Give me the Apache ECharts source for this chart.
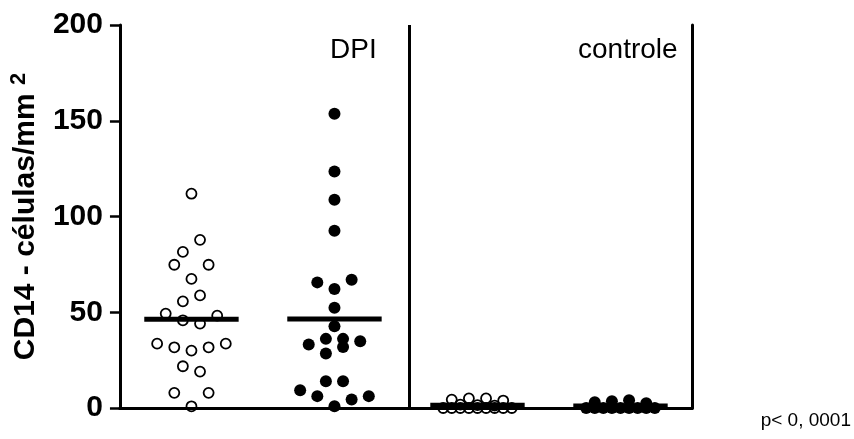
<!DOCTYPE html>
<html>
<head>
<meta charset="utf-8">
<script src="https://cdn.jsdelivr.net/npm/echarts@6/dist/echarts.min.js"></script>
<style>html,body{margin:0;padding:0;background:#fff;}#c{width:854px;height:439px;}</style>
</head>
<body>
<div id="c"></div>
<script>
// ---- data ----
const groupNames = ['DPI (○)', 'DPI (●)', 'controle (○)', 'controle (●)'];
const panelLabels = ['DPI', 'controle'];
const yTicks = [0, 50, 100, 150, 200];
const yTitle = 'CD14 - células/mm ';
const pText = 'p< 0, 0001';

const dpiOpen = [111.9, 87.8, 81.5, 74.8, 74.8, 67.4, 58.8, 55.7, 49.3, 48.2, 45.8, 44.1, 33.6, 31.7, 30.0, 31.7, 33.6, 21.8, 19.0, 7.9, 7.9, 0.9];
const dpiOpenJitter = [0, 1, -1, -2, 2, 0, 1, -1, -3, 3, -1, 1, -4, -2, 0, 2, 4, -1, 1, -2, 2, 0];

const dpiFilled = [153.6, 123.5, 108.7, 92.6, 67.0, 65.6, 62.2, 52.3, 42.7, 36.1, 36.1, 34.8, 33.1, 31.9, 28.4, 14.0, 14.0, 9.3, 6.2, 6.2, 4.4, 0.9];
const dpiFilledJitter = [0, 0, 0, 0, 2, -2, 0, 0, 0, -1, 1, 3, -3, 1, -1, -1, 1, -4, -2, 4, 2, 0];

const ctrlOpen = [4.4, 5.0, 5.0, 3.9, 1.8, 1.5, 1.2, 0, 0, 0, 0, 0, 0, 0, 0, 0];
const ctrlOpenJitter = [-3, -1, 1, 3, -2, 0, 2, -4, -3, -2, -1, 0, 1, 2, 3, 4];

const ctrlFilled = [3.0, 3.5, 4.0, 2.5, 0, 0, 0, 0, 0, 0, 0, 0, 0];
const ctrlFilledJitter = [-3, -1, 1, 3, -4, -3, -2, -1, 0, 1, 2, 3, 4];

// ---- build ----
const JW = 0.06;      // jitter slot width in category units
const HALF = 0.33;    // half width of mean bar
const FONT = '"Liberation Sans", Arial, sans-serif';
const groups = [
  {vals: dpiOpen, jit: dpiOpenJitter, filled: false},
  {vals: dpiFilled, jit: dpiFilledJitter, filled: true},
  {vals: ctrlOpen, jit: ctrlOpenJitter, filled: false},
  {vals: ctrlFilled, jit: ctrlFilledJitter, filled: true}
];
const series = [];
groups.forEach((g, i) => {
  const c = i + 1;
  const mean = g.vals.reduce((a, b) => a + b, 0) / g.vals.length;
  series.push({
    name: groupNames[i] + ' mean', type: 'line', symbol: 'none', silent: true,
    data: [[c - HALF, mean], [c + HALF, mean]],
    lineStyle: {color: '#000', width: 5}, z: 3
  });
  series.push({
    name: groupNames[i], type: 'scatter', symbol: 'circle',
    symbolSize: g.filled ? 12 : 10,
    data: g.vals.map((v, k) => [c + g.jit[k] * JW, v]),
    itemStyle: g.filled ? {color: '#000', opacity: 1} :
      {color: 'rgba(0,0,0,0)', borderColor: '#000', borderWidth: 1.8, opacity: 1},
    z: 4
  });
});
// divider between panels
series.push({
  type: 'line', data: [], silent: true,
  markLine: {symbol: 'none', silent: true, label: {show: false},
    lineStyle: {color: '#000', width: 3, type: 'solid'},
    data: [[{coord: [2.525, 0]}, {coord: [2.525, 200]}]]}
});

const chart = echarts.init(document.getElementById('c'), null, {renderer: 'canvas'});
chart.setOption({
  animation: false,
  backgroundColor: '#fff',
  grid: {left: 117, right: 162, top: 25, bottom: 31, containLabel: false},
  xAxis: [
    {type: 'value', min: 0.5, max: 4.5, position: 'bottom',
      axisLine: {show: true, onZero: false, lineStyle: {color: '#000', width: 3}},
      axisTick: {show: false}, axisLabel: {show: false}, splitLine: {show: false}},
    {type: 'value', min: 0.5, max: 4.5, position: 'top',
      axisLine: {show: true, lineStyle: {color: '#000', width: 3}},
      axisTick: {show: false}, axisLabel: {show: false}, splitLine: {show: false}}
  ],
  yAxis: [
    {type: 'value', min: yTicks[0], max: yTicks[yTicks.length - 1], interval: 50, position: 'left',
      name: '{a|' + yTitle + '}{s|2}', nameLocation: 'middle', nameGap: 59, nameRotate: 90,
      nameTextStyle: {rich: {
        a: {fontFamily: FONT, fontWeight: 'bold', fontSize: 30, lineHeight: 36},
        s: {fontFamily: FONT, fontWeight: 'bold', fontSize: 22, lineHeight: 36, verticalAlign: 'top', padding: [0, 0, 12, 0]}
      }},
      axisLine: {show: true, lineStyle: {color: '#000', width: 3}},
      axisTick: {show: true, length: 10, lineStyle: {color: '#000', width: 2.5}},
      axisLabel: {show: true, margin: 17, color: '#000', fontFamily: FONT, fontWeight: 'bold', fontSize: 30},
      splitLine: {show: false}},
    {type: 'value', min: 0, max: 200, position: 'right',
      axisLine: {show: true, lineStyle: {color: '#000', width: 3}},
      axisTick: {show: false}, axisLabel: {show: false}, splitLine: {show: false}}
  ],
  graphic: [
    {type: 'text', left: 330, top: 36, style: {text: panelLabels[0], fill: '#000', font: '28px ' + FONT}},
    {type: 'text', left: 578, top: 36, style: {text: panelLabels[1], fill: '#000', font: '28px ' + FONT}},
    {type: 'text', right: 3, top: 411, style: {text: pText, fill: '#000', font: '19px ' + FONT}}
  ],
  series: series
});
</script>
</body>
</html>
